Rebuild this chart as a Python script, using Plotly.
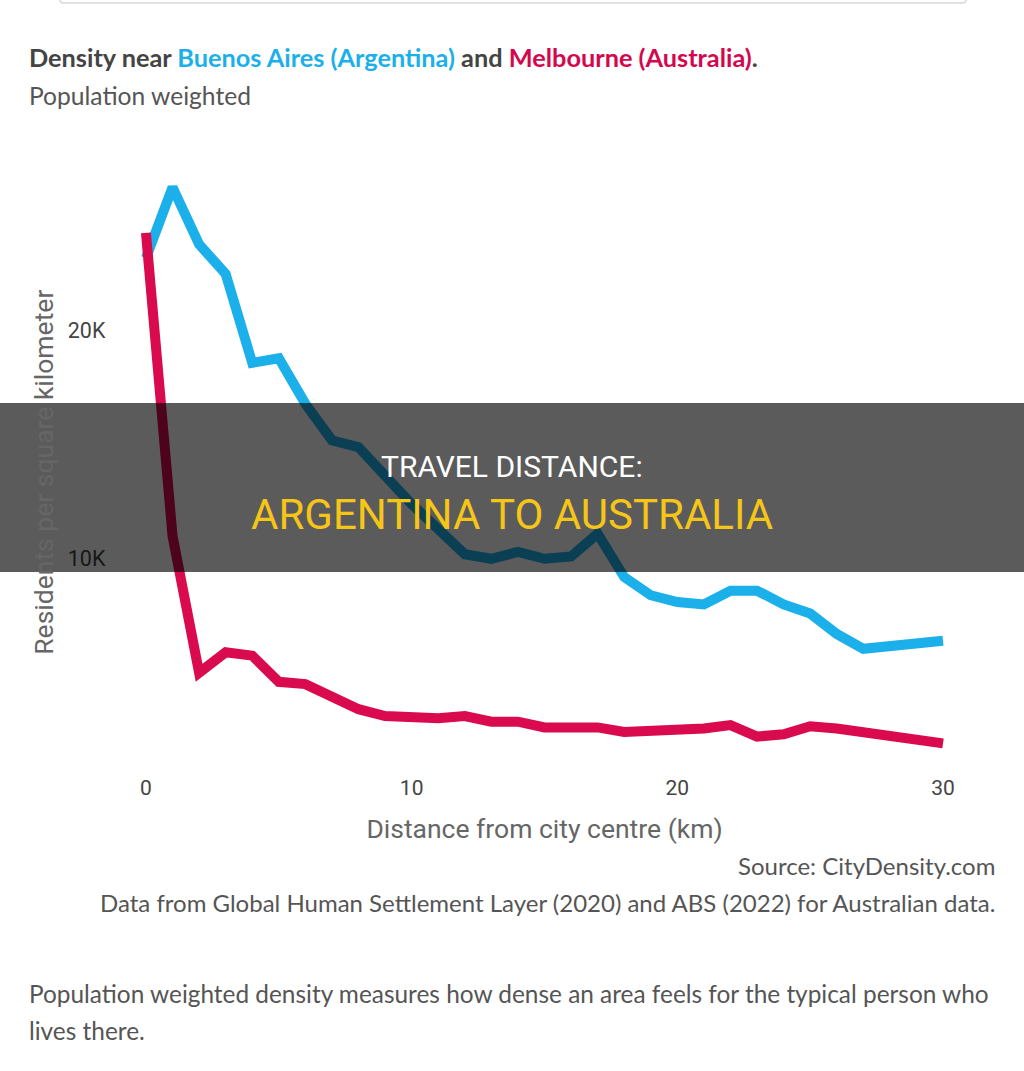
import plotly.graph_objects as go

distance_km = list(range(0, 31))
buenos_aires = [23200, 26300, 23800, 22500, 18600, 18800, 16800, 15200, 14900, 13600,
                12400, 11300, 10200, 10000, 10300, 10000, 10100, 11100, 9200, 8400,
                8100, 8000, 8600, 8600, 8000, 7600, 6700, 6050, 6200, 6300, 6400]
melbourne = [24300, 11000, 5000, 5900, 5750, 4600, 4500, 3950, 3400, 3100,
             3050, 3000, 3100, 2850, 2850, 2600, 2600, 2600, 2400, 2450,
             2400, 2550, 2700, 2200, 2300, 2650, 2550, 2400, 2200, 2150, 1900]
x_ticks = [0, 10, 20, 30]
y_ticks = [10000, 20000]
y_ticktext = ["10K", "20K"]

BLUE = "#1cb0ea"
RED = "#da0a4e"
W, H = 1024, 1071

def py(p):
    return 1 - p / H

fig = go.Figure()
fig.add_trace(go.Scatter(x=distance_km, y=buenos_aires, mode="lines",
                         line=dict(color=BLUE, width=10), name="Buenos Aires",
                         showlegend=False))
fig.add_trace(go.Scatter(x=distance_km, y=melbourne, mode="lines",
                         line=dict(color=RED, width=10), name="Melbourne",
                         showlegend=False))

fig.update_layout(
    width=W, height=H,
    margin=dict(l=0, r=0, t=0, b=0),
    paper_bgcolor="white", plot_bgcolor="white",
    font=dict(family="Roboto", color="#444"),
    xaxis=dict(domain=[119.4 / W, 969.6 / W], range=[-1, 31],
               tickvals=x_ticks, showgrid=False, zeroline=False, showline=False,
               ticks="", tickfont=dict(size=21, color="#444", family="Roboto"),
               title=dict(text="Distance from city centre (km)", standoff=20,
                          font=dict(size=26.5, color="#666", family="Roboto"))),
    yaxis=dict(domain=[py(773), py(171.4)], range=[600, 27000],
               tickvals=y_ticks, ticktext=y_ticktext, showgrid=False,
               zeroline=False, showline=False, ticks="",
               ticklabelstandoff=13,
               tickfont=dict(size=21.5, color="#444", family="Roboto"),
               title=dict(text="Residents per square kilometer", standoff=6,
                          font=dict(size=26.5, color="#666", family="Roboto"))),
)

TXT = "Lato"
ann = [
    dict(x=27 / W, y=py(57), xanchor="left", yanchor="middle",
         text=("<b>Density near <span style='color:#1cb0ea'>Buenos Aires (Argentina)</span> and "
               "<span style='color:#d6064d'>Melbourne (Australia)</span>.</b>"),
         font=dict(size=25.3, color="#444", family=TXT)),
    dict(x=27 / W, y=py(95), xanchor="left", yanchor="middle",
         text="Population weighted", font=dict(size=24.6, color="#555", family=TXT)),
    dict(x=997 / W, y=py(865), xanchor="right", yanchor="middle",
         text="Source: CityDensity.com", font=dict(size=24, color="#555", family=TXT)),
    dict(x=997 / W, y=py(902), xanchor="right", yanchor="middle",
         text="Data from Global Human Settlement Layer (2020) and ABS (2022) for Australian data.",
         font=dict(size=24, color="#555", family=TXT)),
    dict(x=27 / W, y=py(993), xanchor="left", yanchor="middle",
         text="Population weighted density measures how dense an area feels for the typical person who",
         font=dict(size=24.4, color="#555", family=TXT)),
    dict(x=27 / W, y=py(1030), xanchor="left", yanchor="middle",
         text="lives there.", font=dict(size=24.4, color="#555", family=TXT)),
    dict(x=0.5, y=py(466), xanchor="center", yanchor="middle",
         text="TRAVEL DISTANCE:", font=dict(size=30, color="white", family="Roboto")),
    dict(x=0.5, y=py(514), xanchor="center", yanchor="middle",
         text="ARGENTINA TO AUSTRALIA", font=dict(size=42, color="#f5c518", family="Roboto")),
]
for a in ann:
    a.update(xref="paper", yref="paper", showarrow=False)
fig.update_layout(annotations=ann)

fig.update_layout(shapes=[
    dict(type="rect", xref="paper", yref="paper", x0=0, x1=1,
         y0=py(572), y1=py(403), fillcolor="rgba(0,0,0,0.645)",
         line=dict(width=0), layer="above"),
    dict(type="path", xref="paper", yref="paper",
         path=f"M {60/W} {py(-4)} L {60/W} {py(0)} Q {60/W} {py(3)} {64/W} {py(3)} "
              f"L {962/W} {py(3)} Q {966/W} {py(3)} {966/W} {py(0)} L {966/W} {py(-4)}",
         line=dict(color="#d8d8d8", width=1.5), layer="above"),
])

fig.write_html("out.html")
